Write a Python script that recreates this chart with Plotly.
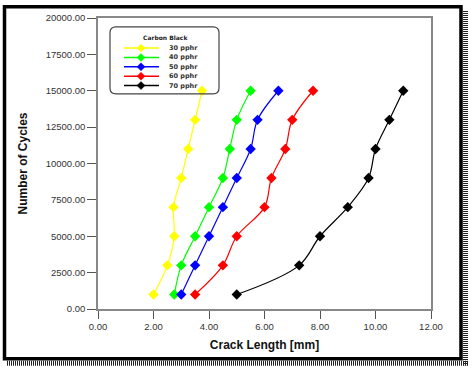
import plotly.graph_objects as go

cycles = [1000, 3000, 5000, 7000, 9000, 11000, 13000, 15000]
crack_30 = [2.0, 2.5, 2.75, 2.72, 3.0, 3.25, 3.5, 3.75]
crack_40 = [2.75, 3.0, 3.5, 4.0, 4.5, 4.75, 5.0, 5.5]
crack_50 = [3.0, 3.5, 4.0, 4.5, 5.0, 5.5, 5.75, 6.5]
crack_60 = [3.5, 4.5, 5.0, 6.0, 6.25, 6.75, 7.0, 7.75]
crack_70 = [5.0, 7.25, 8.0, 9.0, 9.75, 10.0, 10.5, 11.0]

series_names = ["30 pphr", "40 pphr", "50 pphr", "60 pphr", "70 pphr"]
series_x = [crack_30, crack_40, crack_50, crack_60, crack_70]
colors = ["#FFFF00", "#00FF00", "#0000FF", "#FF0000", "#000000"]
legend_title = "Carbon Black"

x_ticks = [0, 2, 4, 6, 8, 10, 12]
y_ticks = [0, 2500, 5000, 7500, 10000, 12500, 15000, 17500, 20000]

fig = go.Figure()
for name, xs, c in zip(series_names, series_x, colors):
    fig.add_trace(go.Scatter(
        x=xs, y=cycles, name=name, mode="lines+markers", showlegend=False,
        line=dict(color=c, width=1.2, shape="spline", smoothing=1.0),
        marker=dict(symbol="diamond", size=8, color=c, line=dict(width=0)),
    ))

W, H = 473, 370
L, R, T, B = 98, 42, 14, 61
pw, ph = W - L - R, H - T - B

def px(x):
    return (x - L) / pw

def py(y):
    return (H - B - y) / ph

def P(x, y):
    return f"{px(x):.4f},{py(y):.4f}"

# rounded legend box path (paper coords)
x0, x1, y0, y1, r = 110, 219, 23, 91, 6
path = (f"M {P(x0+r, y0)} L {P(x1-r, y0)} Q {P(x1, y0)} {P(x1, y0+r)} "
        f"L {P(x1, y1-r)} Q {P(x1, y1)} {P(x1-r, y1)} L {P(x0+r, y1)} "
        f"Q {P(x0, y1)} {P(x0, y1-r)} L {P(x0, y0+r)} Q {P(x0, y0)} {P(x0+r, y0)} Z")

shapes = [
    dict(type="path", xref="paper", yref="paper", path=path,
         line=dict(color="#444", width=1.2), fillcolor="rgba(0,0,0,0)"),
    # outer thick frame
    dict(type="rect", xref="paper", yref="paper",
         x0=px(4.5), x1=px(461), y0=py(2.5), y1=py(359.5),
         line=dict(color="#000", width=3.5)),
    # shadow
    dict(type="line", xref="paper", yref="paper",
         x0=px(465.5), x1=px(465.5), y0=py(7), y1=py(366),
         line=dict(color="#222", width=5, dash="1px,1px")),
    dict(type="line", xref="paper", yref="paper",
         x0=px(7), x1=px(468), y0=py(364), y1=py(364),
         line=dict(color="#222", width=5, dash="1px,1px")),
]

annotations = [
    dict(text="<b>" + legend_title + "</b>", xref="paper", yref="paper",
         x=px(165), y=py(34), xanchor="center", yanchor="middle", showarrow=False,
         font=dict(size=6, family="DejaVu Sans", color="#222")),
]

# manual compact legend
entry_y = 44.5
entry_gap = 9.5
for i, (name, c) in enumerate(zip(series_names, colors)):
    yy = entry_y + i * entry_gap
    shapes.append(dict(type="line", xref="paper", yref="paper",
                       x0=px(124), x1=px(159), y0=py(yy), y1=py(yy),
                       line=dict(color=c, width=1.5)))
    d = 4
    shapes.append(dict(type="path", xref="paper", yref="paper",
                       path=f"M {P(141-d, yy)} L {P(141, yy-d)} L {P(141+d, yy)} L {P(141, yy+d)} Z",
                       fillcolor=c, line=dict(color=c, width=0.5)))
    annotations.append(dict(text="<b>" + name + "</b>", xref="paper", yref="paper",
                            x=px(167), y=py(yy), xanchor="left", yanchor="middle",
                            showarrow=False,
                            font=dict(size=6.5, family="DejaVu Sans", color="#333")))

fig.update_layout(
    width=W, height=H,
    margin=dict(l=L, r=R, t=T, b=B),
    paper_bgcolor="white", plot_bgcolor="white",
    font=dict(family="Arial, Liberation Sans, sans-serif", color="#222"),
    showlegend=False,
    hovermode=False,
    xaxis=dict(
        range=[0, 12], tickvals=x_ticks,
        ticktext=[f"{v:.2f}" for v in x_ticks],
        showgrid=False, zeroline=False, showline=True, mirror=True,
        linecolor="#888", linewidth=1.5,
        ticks="outside", ticklen=8, tickcolor="#555",
        tickfont=dict(size=9.5, color="#333"),
        title=dict(text="<b>Crack Length [mm]</b>", font=dict(size=12, color="#111"), standoff=9),
    ),
    yaxis=dict(
        range=[0, 20000], tickvals=y_ticks,
        ticktext=[f"{v:.2f}" for v in y_ticks],
        showgrid=False, zeroline=False, showline=True, mirror=True,
        linecolor="#888", linewidth=1.5,
        ticks="outside", ticklen=9, tickcolor="#555",
        tickfont=dict(size=9.5, color="#333"),
        title=dict(text="<b>Number of Cycles</b>", font=dict(size=12, color="#111"), standoff=16),
    ),
    shapes=shapes,
    annotations=annotations,
)

fig.write_html("out.html", config={"displayModeBar": False},
               post_script="document.body.style.margin='0';document.body.style.padding='0';")
